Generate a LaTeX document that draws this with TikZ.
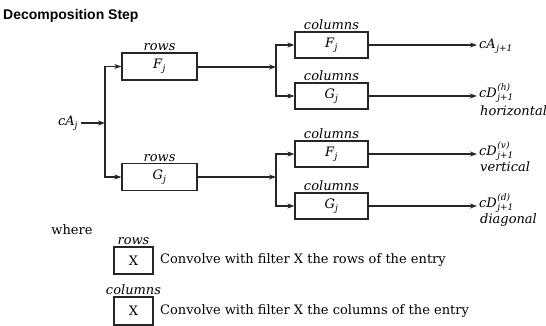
\documentclass[tikz,border=0pt]{standalone}
\usepackage{amsmath}
\usepackage{fontspec}
\setmainfont{DejaVu Serif}
\newfontfamily\titlefont{Liberation Sans}
\usetikzlibrary{arrows.meta,positioning}
\newcommand{\mi}[1]{\textit{#1}}
\newcommand{\scr}[1]{{\fontsize{9}{9}\selectfont\itshape #1}}
\newcommand{\outsym}[3]{\mi{#1}\kern0.5pt\rlap{\raisebox{7pt}{\scr{#2}}}\raisebox{-3pt}{\scr{#3}}}
\begin{document}
\begin{tikzpicture}[x=1pt,y=-1pt,
  every node/.style={font=\fontsize{13}{15}\selectfont, inner sep=1pt},
  wire/.style={line width=1.3pt, draw=black!85},
  arr/.style={wire, -{Stealth[length=7pt,width=5pt]}},
  filt/.style={draw=black!85, line width=1.3pt, rectangle, minimum height=27pt, inner sep=0pt},
  rowbox/.style={filt, minimum width=75pt},
  colbox/.style={filt, minimum width=73pt, minimum height=26pt},
  lab/.style={font=\fontsize{13}{15}\selectfont\itshape},
  outlab/.style={anchor=base west, inner sep=2pt},
  word/.style={font=\fontsize{13}{15}\selectfont\itshape, anchor=base west, inner sep=0pt}
]
\useasboundingbox (0,0) rectangle (546,326);
\node[anchor=west, font=\titlefont\bfseries\fontsize{14}{16}\selectfont] (title) at (2,16) {Decomposition Step};

% rows stage
\node[rowbox] (rF) at (159.5,66.5) {\mi{F}$_{\mi{j}}$};
\node[rowbox] (rG) at (159.5,177) {\mi{G}$_{\mi{j}}$};
\node[lab, above=0pt of rF] (rFl) {rows};
\node[lab, above=0pt of rG] (rGl) {rows};
\node (cA) at (68,123) {\mi{cA}$_{\mi{j}}$};
\coordinate (s1) at (105,123);
\draw[arr] (cA.east) ++(2pt,0) -- (s1);
\draw[arr] (s1) |- (rF.west);
\draw[arr] (s1) |- (rG.west);

% columns stage
\node[colbox] (c1) at (331.5,45) {\mi{F}$_{\mi{j}}$};
\node[colbox] (c2) at (331.5,96) {\mi{G}$_{\mi{j}}$};
\node[colbox] (c3) at (331.5,154) {\mi{F}$_{\mi{j}}$};
\node[colbox] (c4) at (331.5,206) {\mi{G}$_{\mi{j}}$};
\foreach \n in {c1,c2,c3,c4} \node[lab, above=0pt of \n] (\n l) {columns};

\coordinate (j1) at (276,67);
\coordinate (j2) at (276,177);
\draw[arr] (rF.east |- j1) -- (j1);
\draw[arr] (rG.east) -- (j2);
\draw[arr] (j1) |- (c1.west);
\draw[arr] (j1) |- (c2.west);
\draw[arr] (j2) |- (c3.west);
\draw[arr] (j2) |- (c4.west);

% outputs
\node[outlab] (o1) at (477,49) {\outsym{cA}{}{j+1}};
\node[outlab] (o2) at (477,98) {\outsym{cD}{(h)}{j+1}};
\node[outlab] (o3) at (477,155.5) {\outsym{cD}{(v)}{j+1}};
\node[outlab] (o4) at (477,207.5) {\outsym{cD}{(d)}{j+1}};
\draw[arr] (c1.east) -- (c1.east -| o1.west);
\draw[arr] (c2.east) -- (c2.east -| o2.west);
\draw[arr] (c3.east) -- (c3.east -| o3.west);
\draw[arr] (c4.east) -- (c4.east -| o4.west);
\node[word] (h) at (480,115.5) {horizontal};
\node[word] (v) at (480,171.5) {vertical};
\node[word] (d) at (480,223) {diagonal};

% legend
\node (where) at (72,230) {where};
\node[filt, minimum width=39pt] (x1) at (133.5,260.5) {X};
\node[lab, above=0pt of x1] (x1l) {rows};
\node[anchor=west] (t1) at (159,260.5) {Convolve with filter X the rows of the entry};
\node[filt, minimum width=39pt, minimum height=28pt] (x2) at (133.5,311) {X};
\node[lab, above=0pt of x2] (x2l) {columns};
\node[anchor=west] (t2) at (159,311) {Convolve with filter X the columns of the entry};
\end{tikzpicture}
\end{document}
